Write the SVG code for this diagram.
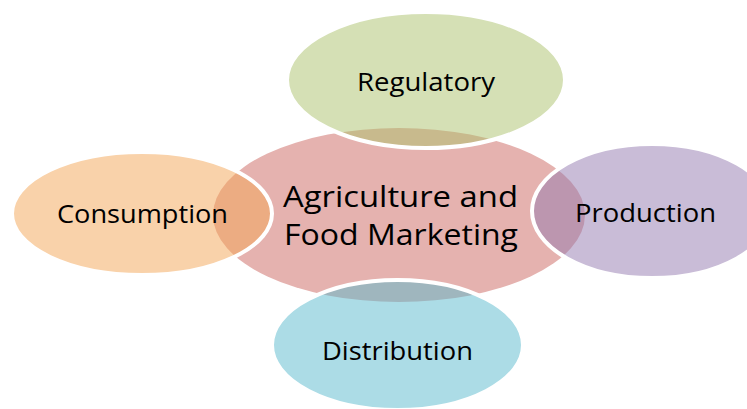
<svg xmlns="http://www.w3.org/2000/svg" width="747" height="409" viewBox="0 0 747 409">
  <style>
    .hub { fill: #E5B2AF; stroke: none; }
    .sat { fill-opacity: 0.5; stroke: #FFFFFF; stroke-width: 4; }
    .label { font-family: "Open Sans", "Liberation Sans", sans-serif; fill: #000000; }
    .hub-label { font-size: 30px; }
    .sat-label { font-size: 26px; }
  </style>

  <rect width="747" height="409" fill="#FFFFFF"/>

  <!-- central hub -->
  <g id="node-hub">
    <ellipse class="hub" cx="399" cy="215" rx="186" ry="87"/>
    <text class="label hub-label" x="283" y="207" textLength="235" lengthAdjust="spacingAndGlyphs">Agriculture and</text>
    <text class="label hub-label" x="284" y="245" textLength="234" lengthAdjust="spacingAndGlyphs">Food Marketing</text>
  </g>

  <!-- satellites, semi-transparent over the hub -->
  <g id="node-regulatory">
    <ellipse class="sat" cx="426" cy="80" rx="139" ry="68" fill="#ABC16B"/>
    <text class="label sat-label" x="357" y="91" textLength="138" lengthAdjust="spacingAndGlyphs">Regulatory</text>
  </g>

  <g id="node-consumption">
    <ellipse class="sat" cx="142" cy="213.5" rx="130" ry="61.5" fill="#F3A555"/>
    <text class="label sat-label" x="57" y="223" textLength="171" lengthAdjust="spacingAndGlyphs">Consumption</text>
  </g>

  <g id="node-production">
    <ellipse class="sat" cx="652" cy="211" rx="120" ry="67" fill="#9379AF"/>
    <text class="label sat-label" x="575" y="222" textLength="141" lengthAdjust="spacingAndGlyphs">Production</text>
  </g>

  <g id="node-distribution">
    <ellipse class="sat" cx="397.5" cy="345" rx="125.5" ry="65" fill="#59B9CD"/>
    <text class="label sat-label" x="322" y="360" textLength="151" lengthAdjust="spacingAndGlyphs">Distribution</text>
  </g>
</svg>
